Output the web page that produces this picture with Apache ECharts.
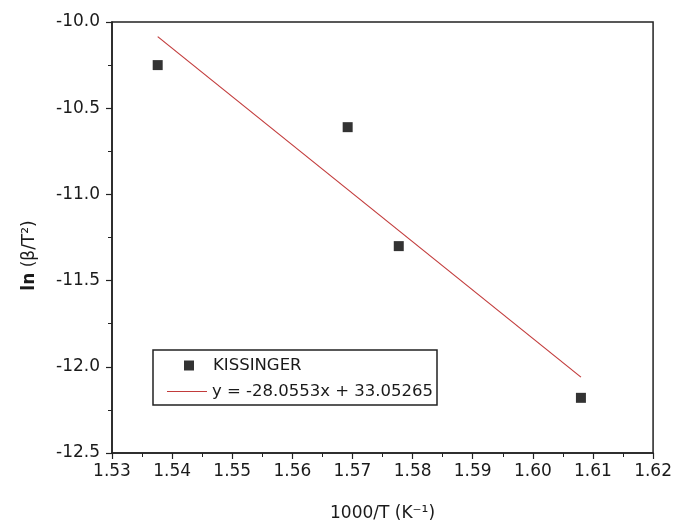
<!DOCTYPE html>
<html>
<head>
<meta charset="utf-8">
<script src="https://cdn.jsdelivr.net/npm/echarts@6/dist/echarts.min.js"></script>
<style>
  html, body { margin: 0; padding: 0; background: #fff; }
  #chart { width: 675px; height: 531px; }
</style>
</head>
<body>
<div id="chart"></div>
<script>
// Data
const kissX = [1.5376, 1.5692, 1.5777, 1.6080];
const kissY = [-10.25, -10.61, -11.30, -12.18];
// fitted line y = -28.0553x + 33.05265, ends read at the first and last point
const fitX = [1.5376, 1.6080];
const fitY = [-10.085, -12.060];
const fitLabel = 'y = -28.0553x + 33.05265';

const FONT = 'DejaVu Sans, Verdana, sans-serif';
const INK = '#1a1a1a';

const chart = echarts.init(document.getElementById('chart'), null, { renderer: 'canvas' });

chart.setOption({
    backgroundColor: '#fff',
    animation: false,
    textStyle: { fontFamily: FONT },
    grid: {
        left: 112, right: 21, top: 22, bottom: 78,
        show: true, borderColor: '#222', borderWidth: 1.5, backgroundColor: 'transparent'
    },
    xAxis: {
        type: 'value',
        min: 1.53, max: 1.62, interval: 0.01,
        name: '1000/T (K\u207B\u00B9)',
        nameLocation: 'middle', nameGap: 52,
        nameTextStyle: { fontSize: 17, color: INK, fontFamily: FONT },
        axisLine: { onZero: false, lineStyle: { color: '#222', width: 1.5 } },
        axisTick: { show: true, inside: false, length: 6, lineStyle: { color: '#222', width: 1.2 } },
        minorTick: { show: true, splitNumber: 2, length: 4, lineStyle: { color: '#222', width: 1 } },
        splitLine: { show: false },
        axisLabel: {
            fontSize: 17, color: INK, margin: 10, fontFamily: FONT,
            formatter: v => v.toFixed(2)
        }
    },
    yAxis: {
        type: 'value',
        min: -12.5, max: -10, interval: 0.5,
        name: '{b|ln} (\u03B2/T\u00B2)',
        nameLocation: 'middle', nameGap: 74, nameRotate: 90,
        nameTextStyle: {
            fontSize: 17, color: INK, fontFamily: FONT, padding: [0, 36, 0, 0],
            rich: { b: { fontSize: 17, fontWeight: 'bold', color: INK, fontFamily: FONT } }
        },
        axisLine: { onZero: false, lineStyle: { color: '#222', width: 1.5 } },
        axisTick: { show: true, inside: false, length: 6, lineStyle: { color: '#222', width: 1.2 } },
        minorTick: { show: true, splitNumber: 2, length: 4, lineStyle: { color: '#222', width: 1 } },
        splitLine: { show: false },
        axisLabel: {
            fontSize: 17, color: INK, margin: 12, fontFamily: FONT,
            formatter: v => v.toFixed(1)
        }
    },
    legend: [
        {
            data: [{ name: 'KISSINGER', icon: 'rect' }],
            left: 179, top: 352,
            itemWidth: 10, itemHeight: 10,
            textStyle: { fontSize: 16.5, color: INK, fontFamily: FONT, padding: [0, 0, 0, 14] },
            selectedMode: false
        },
        {
            data: [{ name: fitLabel, icon: 'rect' }],
            left: 162, top: 378,
            itemWidth: 40, itemHeight: 1.2,
            textStyle: { fontSize: 16.5, color: INK, fontFamily: FONT },
            selectedMode: false
        }
    ],
    graphic: [
        {
            type: 'rect',
            shape: { x: 153, y: 350, width: 284, height: 55 },
            style: { fill: 'none', stroke: '#222', lineWidth: 1.5 },
            z: 100
        }
    ],
    series: [
        {
            name: 'KISSINGER',
            type: 'scatter',
            symbol: 'rect',
            symbolSize: 10,
            itemStyle: { color: '#000' },
            data: kissX.map((x, i) => [x, kissY[i]])
        },
        {
            name: fitLabel,
            type: 'line',
            symbol: 'none',
            lineStyle: { color: '#c23b3b', width: 1.2 },
            itemStyle: { color: '#c23b3b' },
            data: fitX.map((x, i) => [x, fitY[i]])
        }
    ]
});
</script>
</body>
</html>
